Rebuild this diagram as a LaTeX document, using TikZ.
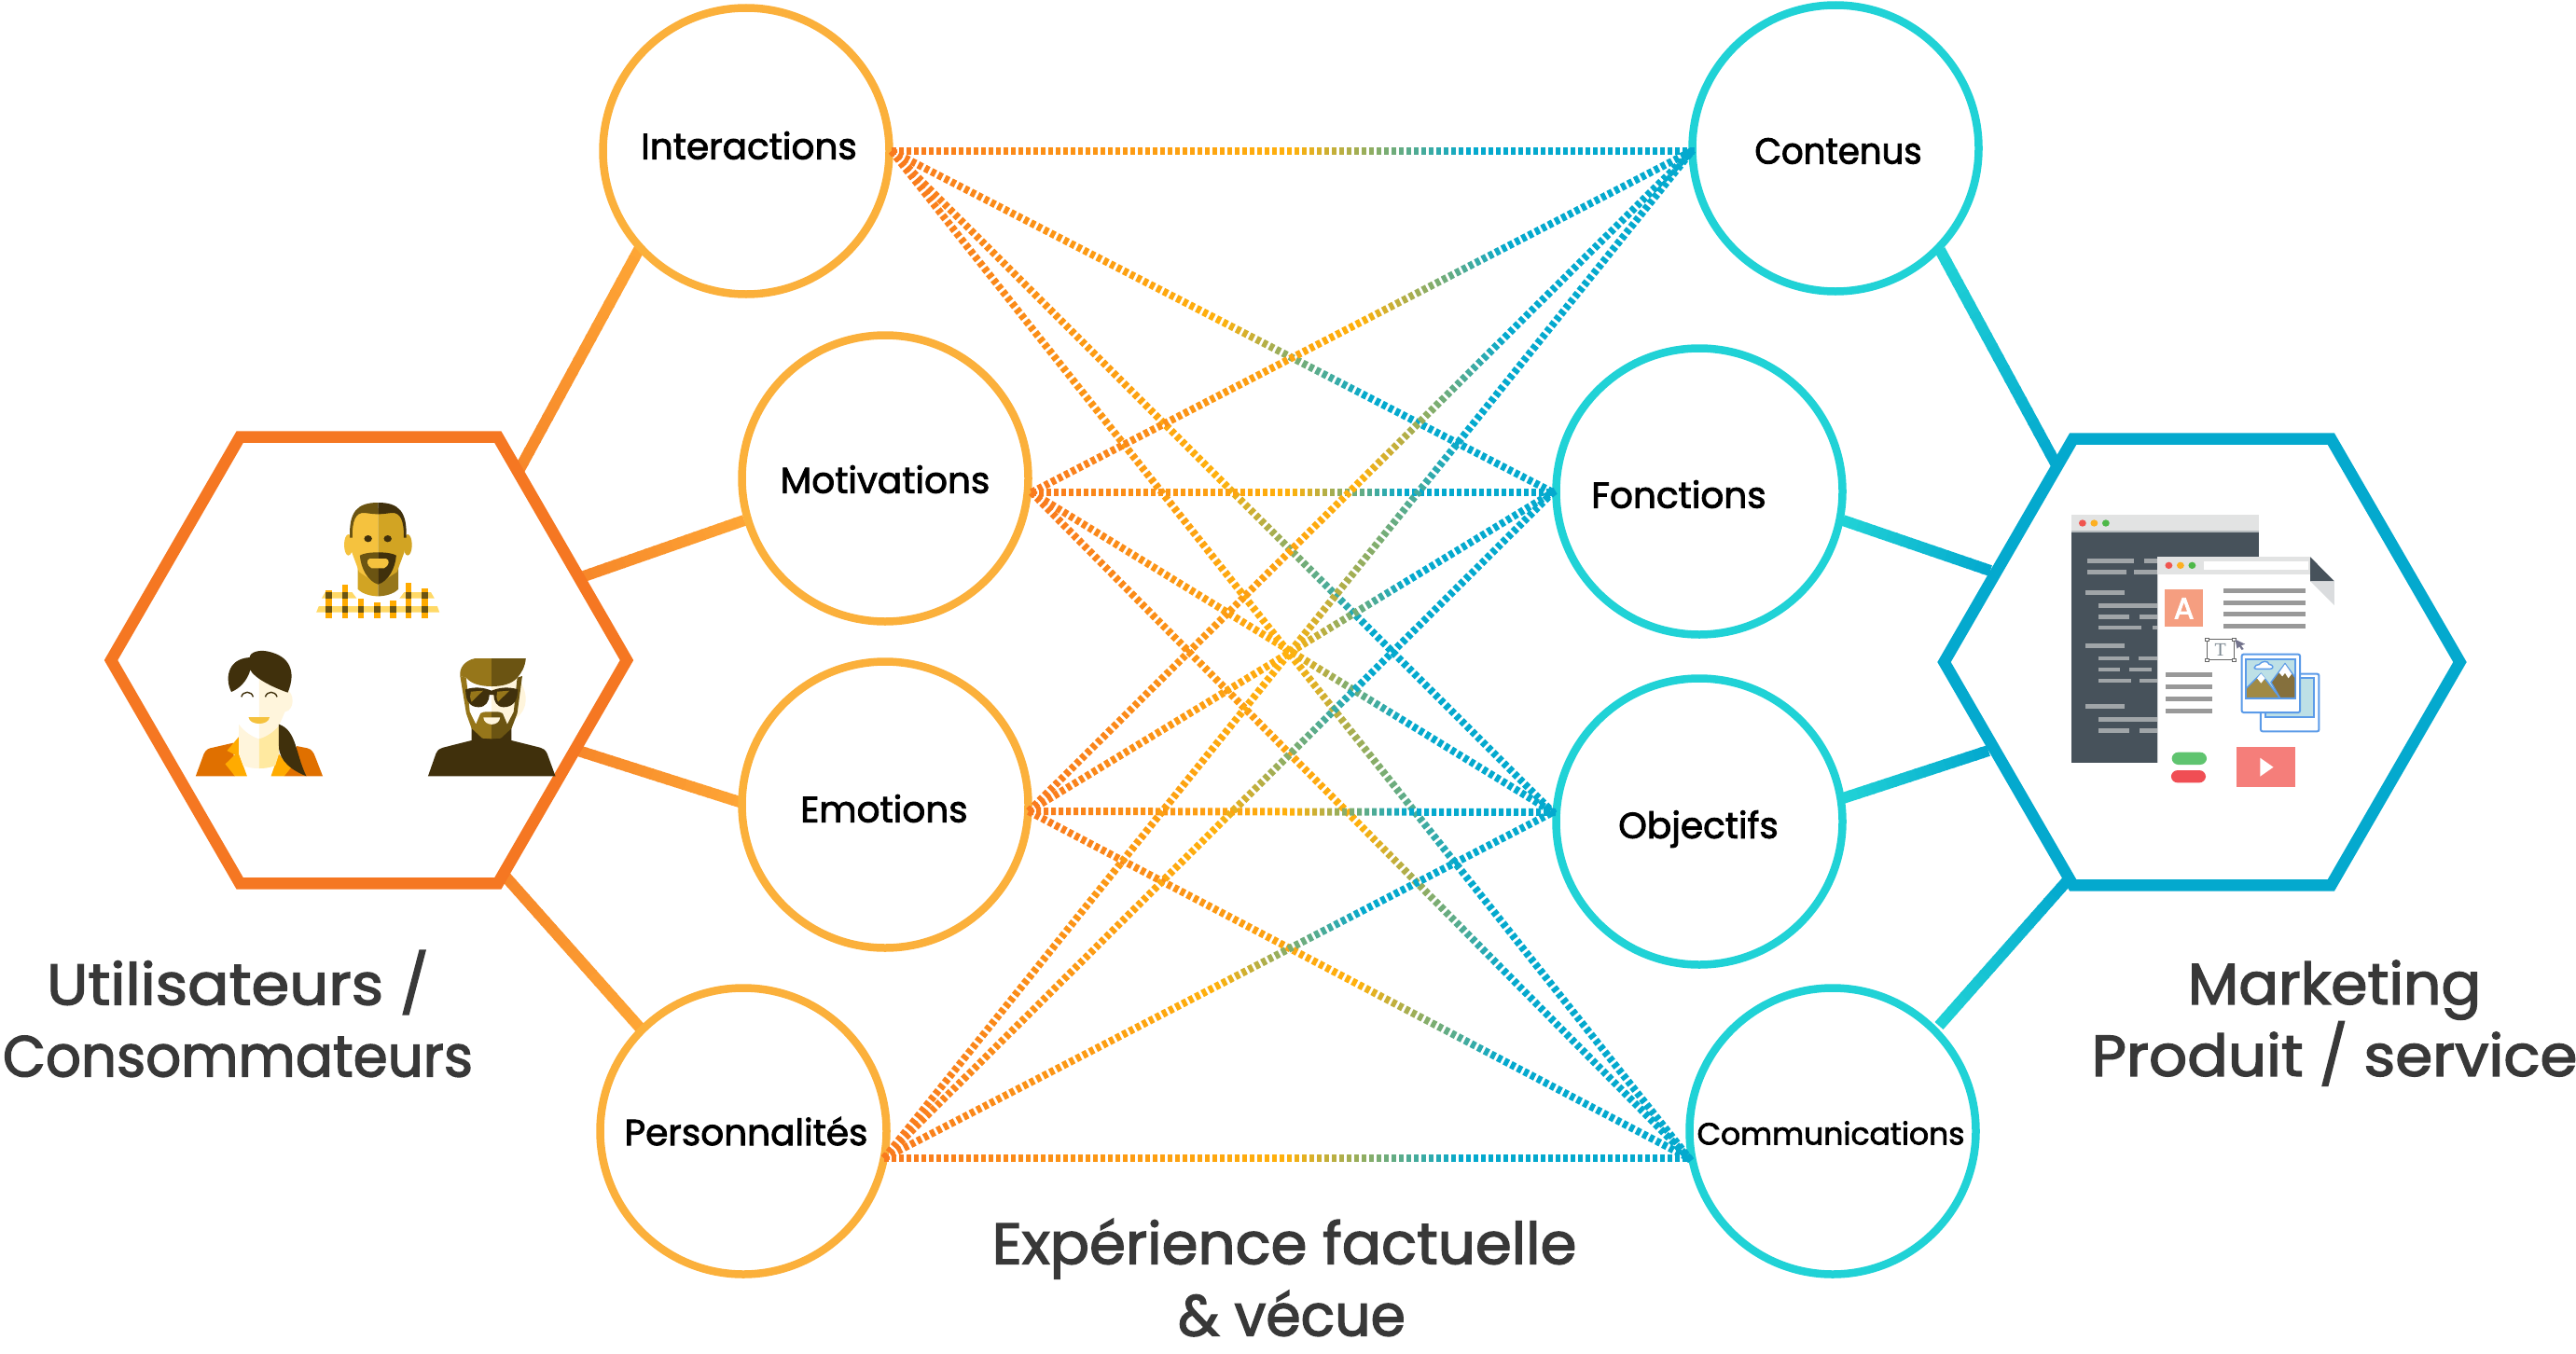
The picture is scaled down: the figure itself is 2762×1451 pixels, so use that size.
\documentclass[tikz,border=0pt]{standalone}
\usepackage{fontspec}
\setmainfont{Poppins}
\newfontfamily\labelfont[FakeBold=2.2]{Poppins}
\newfontfamily\titlefont[FakeBold=2.2]{Poppins}
\newfontfamily\iconfont[FakeBold=2.5]{Poppins}
\newfontfamily\serifont{Liberation Serif}
\usepackage{tikz}
\usetikzlibrary{calc}
\usetikzlibrary{shapes.geometric}
\pgfdeclarelayer{back}
\pgfsetlayers{back,main}
\definecolor{clrOrange}{HTML}{F57722}
\definecolor{clrAmber}{HTML}{FBB03B}
\definecolor{clrYellow}{HTML}{FFB10C}
\definecolor{clrBlue}{HTML}{04A9CE}
\definecolor{clrTeal}{HTML}{20D2D6}
\definecolor{clrLinkO}{HTML}{F97A1E}
\definecolor{clrBarO}{HTML}{FFA033}
\definecolor{clrFnt}{HTML}{383838}
\definecolor{inkD}{HTML}{40300C}
\definecolor{inkM}{HTML}{6B5412}
\definecolor{inkB}{HTML}{96761A}
\definecolor{skinG}{HTML}{D2A423}
\definecolor{skinY}{HTML}{F5C23E}
\definecolor{skinL}{HTML}{FFF5DC}
\definecolor{skinP}{HTML}{FFE9A0}
\definecolor{coatD}{HTML}{E07000}
\definecolor{coatO}{HTML}{FFAB00}
\definecolor{plaidL}{HTML}{FFD966}
\definecolor{slate}{HTML}{47525B}
\definecolor{barBar}{HTML}{E2E3E3}
\definecolor{lineG}{HTML}{999999}
\definecolor{lineB}{HTML}{A0A5A8}
\definecolor{photoB}{HTML}{5B9BE8}
\definecolor{photoL}{HTML}{BDE0E6}
\definecolor{tileA}{HTML}{F59E80}
\definecolor{tileT}{HTML}{7B8790}
\definecolor{mountB}{HTML}{85703D}
\definecolor{mountL}{HTML}{A08A45}
\definecolor{pillG}{HTML}{5FC46F}
\definecolor{pillR}{HTML}{F04E54}
\definecolor{video}{HTML}{F57E7A}
\tikzstyle{hex_style0}=[draw, regular polygon, regular polygon sides=6, minimum size=276.5pt, inner sep=0pt, line width=6.25pt, fill=white]
\tikzstyle{hex_left}=[hex_style0, draw=clrOrange]
\tikzstyle{hex_right}=[hex_style0, draw=clrBlue]
\tikzstyle{circle_style0}=[draw, circle, minimum size=153.5pt, inner sep=0pt, line width=4.25pt, fill=white]
\tikzstyle{circle_left}=[circle_style0, draw=clrAmber]
\tikzstyle{circle_right}=[circle_style0, draw=clrTeal]
\tikzstyle{lbl}=[font=\labelfont\fontsize{19.5}{22}\selectfont, text=black, inner sep=0pt]
\tikzstyle{lbl_small}=[lbl, font=\labelfont\fontsize{16.5}{20}\selectfont]
\tikzstyle{title}=[font=\titlefont\fontsize{31}{38.5}\selectfont, text=clrFnt, align=center, inner sep=0pt]
\tikzstyle{zoomA}=[shift={(100,450)}, x=0.19133pt, y=-0.16667pt]
\tikzstyle{zoomB}=[shift={(2100,460)}, x=0.17857pt, y=-0.16667pt]
% dotted link, orange to yellow to blue
\newcommand{\dotlink}[2]{
	\path let \p1=($(#2)-(#1)$), \n1={veclen(\x1,\y1)} in \pgfextra{\pgfmathsetmacro\dotcount{int(\n1/4pt)}\global\let\nbdots\dotcount} ;
	\foreach \i in {0,...,\nbdots} {
		\pgfmathsetmacro\t{\i/\nbdots}
		\pgfmathsetmacro\pa{min(100,\t*200)}
		\pgfmathsetmacro\pb{max(0,min(100,(\t-0.5)*100/0.22))}
		\colorlet{dotclr}{clrBlue!\pb!clrYellow}
		\ifdim\t pt<0.5pt \colorlet{dotclr}{clrYellow!\pa!clrLinkO}\fi
		\draw[dotclr, line width=4pt] ($(#1)!{\i*4pt}!(#2)$) -- ($(#1)!{\i*4pt+2.5pt}!(#2)$) ;
	}
}
% thick connector with a colour fade
\newcommand{\barlink}[4]{
	\begin{pgfonlayer}{back}
	\foreach \i in {0,...,19} {
		\pgfmathsetmacro\pa{\i*100/19}
		\pgfmathsetmacro\ta{\i/20}
		\pgfmathsetmacro\tb{min(1,(\i+1.2)/20)}
		\draw[#4!\pa!#3, line width=6pt] ($(#1)!\ta!(#2)$) -- ($(#1)!\tb!(#2)$) ;
	}
	\end{pgfonlayer}
}
\begin{document}
\begin{tikzpicture}[x=0.5pt, y=-0.5pt]
	\useasboundingbox (0,0) rectangle (2762,1451) ;

	\node[hex_left] (users) at (395.5,708) {} ;
	\node[hex_right] (product) at (2361,710) {} ;

	\node[circle_left] (interactions) at (800,162) {} ;
	\node[circle_left] (motivations) at (949,513) {} ;
	\node[circle_left] (emotions) at (949,863) {} ;
	\node[circle_left] (personnalites) at (797,1213) {} ;
	\node[circle_right] (contenus) at (1968,159) {} ;
	\node[circle_right] (fonctions) at (1822,527) {} ;
	\node[circle_right] (objectifs) at (1822,881) {} ;
	\node[circle_right] (communications) at (1965,1213) {} ;

	\node[lbl] (tInteractions) at (803,156) {Interactions} ;
	\node[lbl] (tMotivations) at (949,514) {Motivations} ;
	\node[lbl] (tEmotions) at (948,867) {Emotions} ;
	\node[lbl] (tPersonnalites) at (800,1213) {Personnalités} ;
	\node[lbl] (tContenus) at (1971,162) {\scalebox{0.95}[1]{Contenus}} ;
	\node[lbl] (tFonctions) at (1800,530) {Fonctions} ;
	\node[lbl] (tObjectifs) at (1821,889) {Objectifs} ;
	\node[lbl_small] (tCommunications) at (1963,1215) {Communications} ;

	\node[title] (tUsers) at (255,1087) {\scalebox{1.06}[1]{Utilisateurs /}\\\scalebox{0.96}[1]{Consommateurs}} ;
	\node[title] (tProduct) at (2503,1097) {\scalebox{1.02}[1]{Marketing}\\\scalebox{1.04}[1]{Produit / service}} ;
	\node[title] (tVecu) at (1377,1370) {\scalebox{1.01}[1]{Expérience factuelle}\\\hspace*{8pt}\scalebox{0.97}[1]{\& vécue}} ;

	% ends of the thick connectors
	\coordinate (u1) at (555,507) ;
	\coordinate (u2) at (626,618) ;
	\coordinate (u3) at (620,805) ;
	\coordinate (u4) at (542,940) ;
	\coordinate (c1) at (687,264) ;
	\coordinate (c2) at (798,558) ;
	\coordinate (c3) at (796,861) ;
	\coordinate (c4) at (686,1102) ;
	\coordinate (p1) at (2204,497) ;
	\coordinate (p2) at (2134,612) ;
	\coordinate (p3) at (2132,805) ;
	\coordinate (p4) at (2216,945) ;
	\coordinate (d1) at (2080,268) ;
	\coordinate (d2) at (1976,558) ;
	\coordinate (d3) at (1976,856) ;
	\coordinate (d4) at (2079,1100) ;
	\foreach \a/\b in {c1/u1, c2/u2, c3/u3, c4/u4} {
		\barlink{\a}{\b}{clrBarO!70!clrAmber}{clrOrange}
	}
	\foreach \a/\b in {d1/p1, d2/p2, d3/p3, d4/p4} {
		\barlink{\a}{\b}{clrTeal}{clrBlue}
	}

	% ports of the dotted links
	\coordinate (l1) at (956,162) ;
	\coordinate (l2) at (1106,528) ;
	\coordinate (l3) at (1103,870) ;
	\coordinate (l4) at (948,1242) ;
	\coordinate (r1) at (1814,162) ;
	\coordinate (r2) at (1665,528) ;
	\coordinate (r3) at (1665,871) ;
	\coordinate (r4) at (1811,1242) ;
	\foreach \a in {l1,l2,l3,l4} {
		\foreach \b in {r1,r2,r3,r4} {
			\dotlink{\a}{\b}
		}
	}

	\begin{scope}[zoomA]
		% man with the plaid shirt
		\fill[plaidL] (640,575) -- (650,555) -- (725,555) -- (738,575) -- cycle ;
		\fill[plaidL] (956,575) -- (946,555) -- (871,555) -- (858,575) -- cycle ;
		\fill[plaidL] (632,600) -- (964,600) -- (970,620) -- (625,620) -- cycle ;
		\foreach \xa/\ya in {652/548, 697/532, 741/577, 787/587, 831/582, 875/525, 920/542} {
			\fill[coatO] (\xa,\ya) rectangle (\xa+17,638) ;
		}
		\foreach \xa in {652, 697, 875, 920} {
			\fill[inkM] (\xa,555) rectangle (\xa+17,575) ;
		}
		\foreach \xa in {652, 697, 741, 787, 831, 875, 920} {
			\fill[inkM] (\xa,600) rectangle (\xa+17,620) ;
		}
		\fill[skinG] (741,470) -- (741,545) .. controls (755,562) and (780,568) .. (798,568) -- (798,470) -- cycle ;
		\fill[inkB] (855,470) -- (855,545) .. controls (841,562) and (816,568) .. (798,568) -- (798,470) -- cycle ;
		\fill[skinY] (715,403) ellipse (12 and 34) ;
		\fill[skinG] (881,403) ellipse (12 and 34) ;
		\fill[skinY] (798,285) -- (745,290) -- (722,340) -- (724,425) -- (745,490) -- (798,530) -- cycle ;
		\fill[skinG] (798,285) -- (851,290) -- (874,340) -- (872,425) -- (851,490) -- (798,530) -- cycle ;
		\fill[inkM] (798,267) .. controls (740,267) and (716,295) .. (719,380) -- (726,380) .. controls (725,325) and (735,298) .. (760,300) .. controls (775,302) and (785,304) .. (798,304) -- cycle ;
		\fill[inkD] (798,267) .. controls (856,267) and (880,295) .. (877,380) -- (870,380) .. controls (871,325) and (861,298) .. (836,300) .. controls (821,302) and (811,304) .. (798,304) -- cycle ;
		\fill[inkM] (798,427) .. controls (775,427) and (757,430) .. (747,437) .. controls (750,480) and (770,520) .. (798,530) -- cycle ;
		\fill[inkD] (798,427) .. controls (821,427) and (839,430) .. (849,437) .. controls (846,480) and (826,520) .. (798,530) -- cycle ;
		\fill[skinY] (775,447) -- (820,447) .. controls (832,450) and (830,470) .. (815,478) -- (780,478) .. controls (766,470) and (764,450) .. (775,447) -- cycle ;
		\fill[inkD] (770,383) circle (11) ;
		\fill[inkD] (825,383) circle (11) ;

		% woman
		\fill[coatD] (287,1147) -- (310,1075) .. controls (316,1060) and (325,1057) .. (335,1055) -- (392,1040) -- (397,1147) -- cycle ;
		\fill[coatD] (570,1050) -- (600,1057) .. controls (612,1060) and (618,1072) .. (622,1085) -- (643,1147) -- (535,1147) -- cycle ;
		\fill[coatO] (408,1020) -- (375,1065) -- (397,1078) -- (370,1108) -- (397,1147) -- (431,1147) -- (408,1075) -- cycle ;
		\fill[coatO] (520,1075) -- (498,1147) -- (535,1147) -- (555,1118) -- (530,1090) -- cycle ;
		\fill[skinL] (408,975) -- (408,1075) -- (420,1113) .. controls (435,1120) and (450,1122) .. (465,1122) -- (465,1000) -- cycle ;
		\fill[skinP] (520,975) -- (520,1075) -- (510,1113) .. controls (495,1120) and (480,1122) .. (465,1122) -- (465,1000) -- cycle ;
		\fill[white] (465,830) -- (390,860) -- (395,930) -- (408,980) .. controls (425,1005) and (445,1020) .. (465,1027) -- cycle ;
		\fill[skinL] (465,830) -- (540,865) .. controls (565,880) and (565,935) .. (537,940) -- (520,985) .. controls (505,1005) and (485,1020) .. (465,1027) -- cycle ;
		\fill[inkD] (387,876) .. controls (370,840) and (372,770) .. (438,765) .. controls (440,745) and (470,740) .. (490,746) .. controls (550,760) and (570,810) .. (545,878) .. controls (500,860) and (450,830) .. (440,805) .. controls (432,840) and (410,865) .. (387,876) -- cycle ;
		\fill[inkD] (520,980) .. controls (570,1000) and (565,1070) .. (597,1147) .. controls (560,1130) and (520,1100) .. (520,1050) -- cycle ;
		\draw[inkD, line width=0.7pt] (415,892) .. controls (420,872) and (443,872) .. (448,892) ;
		\draw[inkD, line width=0.7pt] (482,892) .. controls (487,872) and (510,872) .. (515,892) ;
		\fill[skinY] (435,957) -- (494,957) .. controls (492,985) and (438,985) .. (435,957) -- cycle ;

		% man with the sunglasses
		\fill[inkD] (938,1147) -- (960,1075) .. controls (965,1062) and (972,1057) .. (980,1055) -- (1060,1032) -- (1060,990) -- (1172,990) -- (1172,1032) -- (1252,1055) .. controls (1260,1057) and (1267,1062) .. (1272,1075) -- (1295,1147) -- cycle ;
		\fill[white] (1116,840) -- (1045,830) -- (1050,960) -- (1116,1010) -- cycle ;
		\fill[skinL] (1116,840) -- (1190,830) .. controls (1220,880) and (1220,930) .. (1185,960) -- (1116,1010) -- cycle ;
		\fill[inkB] (1116,1027) -- (1090,1025) -- (1060,993) -- (1045,945) -- (1028,825) -- (1045,830) -- (1055,940) -- (1072,980) -- (1085,945) .. controls (1095,938) and (1105,940) .. (1116,940) -- cycle ;
		\fill[inkM] (1116,1027) -- (1142,1025) -- (1172,993) -- (1188,945) -- (1202,825) -- (1188,830) -- (1178,940) -- (1160,980) -- (1147,945) .. controls (1137,938) and (1127,940) .. (1116,940) -- cycle ;
		\fill[inkB] (1116,768) -- (1070,768) .. controls (1040,775) and (1025,800) .. (1028,825) -- (1045,830) .. controls (1060,852) and (1090,858) .. (1116,858) -- cycle ;
		\fill[inkM] (1116,768) -- (1212,768) .. controls (1210,795) and (1200,815) .. (1188,830) .. controls (1172,852) and (1142,858) .. (1116,858) -- cycle ;
		\fill[skinL] (1093,958) -- (1140,958) .. controls (1138,988) and (1095,988) .. (1093,958) -- cycle ;
		\fill[inkD] (1043,868) .. controls (1070,858) and (1095,862) .. (1116,872) .. controls (1137,862) and (1162,858) .. (1190,868) .. controls (1190,905) and (1175,925) .. (1150,925) .. controls (1130,925) and (1122,905) .. (1122,885) -- (1110,885) .. controls (1110,905) and (1100,925) .. (1080,925) .. controls (1055,925) and (1043,905) .. (1043,868) -- cycle ;
		\fill[inkB] (1058,875) -- (1092,872) -- (1060,908) .. controls (1055,895) and (1055,885) .. (1058,875) -- cycle ;
		\fill[inkB] (1132,875) -- (1166,872) -- (1134,908) .. controls (1129,895) and (1129,885) .. (1132,875) -- cycle ;
	\end{scope}

	\begin{scope}[zoomB]
		% code window
		\fill[barBar] (339,275) rectangle (902,330) ;
		\fill[slate] (339,330) rectangle (902,1075) ;
		\fill[white!60!slate] (339,328) rectangle (902,332) ;
		\foreach \xa/\clr in {372/F0554F, 407/FDB022, 442/4DB848} {
			\definecolor{tmpclr}{HTML}{\clr}
			\fill[tmpclr] (\xa,303) circle (11) ;
		}
		\foreach \xa/\ya/\xb in {386/424/525, 558/424/640, 386/460/503, 527/460/640, 381/526/498, 421/568/640, 421/604/512, 544/604/640, 421/639/549, 582/639/640, 381/697/498, 421/738/512, 541/738/640, 421/774/484, 512/774/579, 421/810/517, 544/810/640, 381/892/498, 421/934/640, 421/970/512, 544/970/640} {
			\fill[lineB] (\xa,\ya-7) rectangle (\xb,\ya+7) ;
		}
		% page
		\fill[white] (597,412) -- (1056,412) -- (1128,490) -- (1128,1160) -- (597,1160) -- cycle ;
		\fill[white!50!lineB] (596,467) rectangle (599,1075) ;
		\fill[barBar] (597,412) rectangle (1056,467) ;
		\foreach \xa/\clr in {631/F0554F, 666/FDB022, 701/4DB848} {
			\definecolor{tmpclr}{HTML}{\clr}
			\fill[tmpclr] (\xa,439) circle (11) ;
		}
		\fill[white] (735,427) rectangle (1050,453) ;
		\fill[slate] (1056,412) -- (1128,490) -- (1056,490) -- cycle ;
		\fill[white!80!slate] (1056,490) -- (1128,490) -- (1128,567) -- cycle ;
		\node[fill=tileA, text=white, minimum width=20.2pt, minimum height=20pt, inner sep=0pt, font=\iconfont\fontsize{16}{16}\selectfont] (letterA) at (676.5,577) {A} ;
		\foreach \ya in {520, 559, 595, 634} {
			\fill[lineG] (794,\ya-7) rectangle (1042,\ya+7) ;
		}
		\foreach \ya in {791, 830, 869, 908} {
			\fill[lineG] (622,\ya-7) rectangle (761,\ya+7) ;
		}
		% text box and cursor
		\draw[gray!80!black, line width=0.5pt] (745,677) rectangle (827,743) ;
		\foreach \xa/\ya in {745/677, 827/677, 745/743, 827/743} {
			\draw[gray!80!black, fill=white, line width=0.4pt] (\xa-6,\ya-5) rectangle (\xa+6,\ya+5) ;
		}
		\node[text=tileT, inner sep=0pt, font=\serifont\fontsize{10}{10}\selectfont] (letterT) at (786,711) {T} ;
		\fill[gray!90!blue] (830,677) -- (860,692) -- (848,697) -- (856,708) -- (850,711) -- (843,700) -- (836,707) -- cycle ;
		% photos
		\draw[photoB, fill=white, line width=1pt, rounded corners=1pt] (907,788) rectangle (1082,973) ;
		\draw[photoB, fill=photoL, line width=1pt] (920,802) rectangle (1068,928) ;
		\draw[photoB, fill=white, line width=1pt, rounded corners=1pt] (850,725) rectangle (1025,912) ;
		\draw[photoB, fill=photoL, line width=1pt] (863,740) rectangle (1011,866) ;
		\draw[photoB, fill=white, line width=0.7pt] (888,768) .. controls (888,760) and (898,758) .. (902,758) .. controls (910,745) and (930,745) .. (932,757) .. controls (945,758) and (948,772) .. (935,772) -- (895,772) .. controls (890,772) and (888,770) .. (888,768) -- cycle ;
		\draw[photoB, fill=mountB, line width=0.7pt] (938,815) -- (980,755) -- (1011,800) -- (1011,866) -- (965,866) -- cycle ;
		\fill[white] (980,757) -- (962,784) -- (972,796) -- (980,785) -- (990,802) -- (1000,788) -- cycle ;
		\draw[photoB, fill=mountL, line width=0.7pt] (863,866) -- (863,835) -- (908,787) -- (965,866) -- cycle ;
		\fill[white] (908,787) -- (896,802) -- (908,818) -- (920,802) -- cycle ;
		% buttons and video
		\fill[pillG, rounded corners=3.5pt] (640,1040) rectangle (745,1080) ;
		\fill[pillR, rounded corners=3.5pt] (638,1098) rectangle (742,1138) ;
		\fill[video] (834,1024) rectangle (1010,1152) ;
		\fill[white] (905,1058) -- (945,1088) -- (905,1118) -- cycle ;
	\end{scope}
\end{tikzpicture}
\end{document}
